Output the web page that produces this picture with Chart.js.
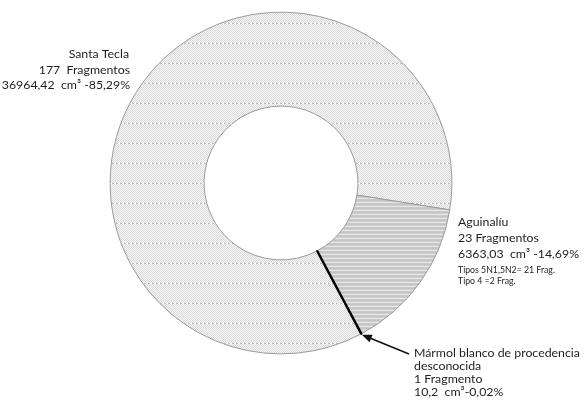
<!DOCTYPE html>
<html>
<head>
<meta charset="utf-8">
<script src="https://cdn.jsdelivr.net/npm/chart.js@4.4.1/dist/chart.umd.min.js"></script>
<style>
  html, body { margin: 0; padding: 0; background: #fff; }
  #wrap { width: 584px; height: 400px; }
</style>
</head>
<body>
<div id="wrap"><canvas id="c" width="584" height="400"></canvas></div>
<script>
// ---- data ----
const categories = ['Santa Tecla', 'Aguinalíu', 'Mármol blanco de procedencia desconocida'];
const volumes = [36964.42, 6363.03, 10.2];          // cm³
const fragments = [177, 23, 1];
const volumeLabels = ['36964,42', '6363,03', '10,2'];
const percentLabels = ['85,29%', '14,69%', '0,02%'];
const aguinaliuTypes = ['Tipos 5N1,5N2= 21 Frag.', 'Tipo 4 =2 Frag.'];

// ---- fill patterns ----
function dottedPattern() {
  const c = document.createElement('canvas');
  c.width = 4; c.height = 20;
  const g = c.getContext('2d');
  for (let y = 0; y < 20; y++) {
    for (let x = 0; x < 4; x++) {
      g.fillStyle = ((x + y) % 2 === 0) ? '#d9d9d9' : '#f8f8f8';
      g.fillRect(x, y, 1, 1);
    }
  }
  g.fillStyle = '#bdbdbd';
  g.fillRect(0, 3, 2, 1);
  g.fillStyle = '#ffffff';
  g.fillRect(2, 3, 2, 1);
  return g.createPattern(c, 'repeat');
}
function stripePattern() {
  const c = document.createElement('canvas');
  c.width = 2; c.height = 4;
  const g = c.getContext('2d');
  const rows = ['#c4c4c4', '#cfcfcf', '#e6e6e6', '#c9c9c9'];
  rows.forEach((col, i) => { g.fillStyle = col; g.fillRect(0, i, 2, 1); });
  return g.createPattern(c, 'repeat');
}

const textPlugin = {
  id: 'labelsAndArrow',
  afterDraw(chart) {
    const ctx = chart.ctx;
    const family = 'Lato, "Open Sans", sans-serif';
    ctx.save();
    // fit the main font so the long label matches the reference width (~166px)
    ctx.font = '13px ' + family;
    const w = ctx.measureText('Mármol blanco de procedencia').width;
    const fs = 13 * 166 / w;
    ctx.font = '9.5px ' + family;
    const ws = ctx.measureText(aguinaliuTypes[0]).width;
    const fsSmall = 9.5 * 97 / ws;

    ctx.fillStyle = '#1e1e1e';
    ctx.textBaseline = 'middle';

    // Santa Tecla
    ctx.font = fs.toFixed(2) + 'px ' + family;
    ctx.textAlign = 'right';
    ctx.fillText(categories[0], 129, 54);
    ctx.fillText(fragments[0] + '  Fragmentos', 130, 70);
    ctx.fillText(volumeLabels[0] + '  cm³ -' + percentLabels[0], 130, 85);

    // Aguinalíu
    ctx.textAlign = 'left';
    ctx.fillText(categories[1], 458, 222);
    ctx.fillText(fragments[1] + ' Fragmentos', 458, 238);
    ctx.fillText(volumeLabels[1] + '  cm³ -' + percentLabels[1], 458, 254);
    ctx.font = fsSmall.toFixed(2) + 'px ' + family;
    ctx.fillText(aguinaliuTypes[0], 458, 270);
    ctx.fillText(aguinaliuTypes[1], 458, 281);

    // Mármol
    ctx.font = fs.toFixed(2) + 'px ' + family;
    ctx.fillText('Mármol blanco de procedencia', 414, 353);
    ctx.fillText('desconocida', 414, 366);
    ctx.fillText(fragments[2] + ' Fragmento', 414, 379);
    ctx.fillText(volumeLabels[2] + '  cm³-' + percentLabels[2], 414, 392);

    // arrow pointing to the Mármol slice
    const arc = chart.getDatasetMeta(0).data[2];
    const a = (arc.startAngle + arc.endAngle) / 2;
    const tx = arc.x + Math.cos(a) * (arc.outerRadius + 1);
    const ty = arc.y + Math.sin(a) * (arc.outerRadius + 1);
    const sx = 409, sy = 354;
    const ang = Math.atan2(ty - sy, tx - sx);
    ctx.strokeStyle = '#111';
    ctx.lineWidth = 1.5;
    ctx.beginPath();
    ctx.moveTo(sx, sy);
    ctx.lineTo(tx - Math.cos(ang) * 6, ty - Math.sin(ang) * 6);
    ctx.stroke();
    ctx.fillStyle = '#111';
    ctx.beginPath();
    ctx.moveTo(tx, ty);
    ctx.lineTo(tx - Math.cos(ang) * 10 + Math.cos(ang + Math.PI / 2) * 4,
               ty - Math.sin(ang) * 10 + Math.sin(ang + Math.PI / 2) * 4);
    ctx.lineTo(tx - Math.cos(ang) * 10 - Math.cos(ang + Math.PI / 2) * 4,
               ty - Math.sin(ang) * 10 - Math.sin(ang + Math.PI / 2) * 4);
    ctx.closePath();
    ctx.fill();
    ctx.restore();
  }
};

const ctx = document.getElementById('c').getContext('2d');
new Chart(ctx, {
  type: 'doughnut',
  data: {
    labels: categories,
    datasets: [{
      data: volumes,
      backgroundColor: [dottedPattern(), stripePattern(), '#000000'],
      borderColor: ['#9a9a9a', '#9a9a9a', '#000000'],
      borderWidth: [1, 1, 2.2]
    }]
  },
  options: {
    responsive: false,
    animation: false,
    rotation: 152,
    cutout: '45%',
    layout: { padding: { left: 100, right: 122, top: 11, bottom: 45 } },
    plugins: {
      legend: { display: false },
      tooltip: { enabled: false }
    }
  },
  plugins: [textPlugin]
});
</script>
</body>
</html>
